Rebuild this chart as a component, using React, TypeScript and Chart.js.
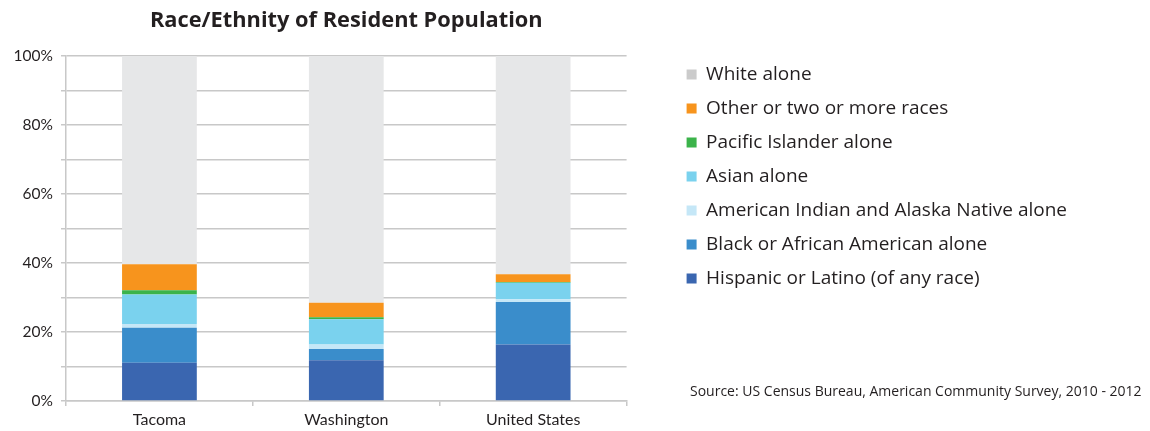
import React, { useEffect, useRef } from "react";
import { Chart, registerables } from "chart.js";

Chart.register(...registerables);

const categories = ["Tacoma", "Washington", "United States"];

const seriesNames = [
  "Hispanic or Latino (of any race)",
  "Black or African American alone",
  "American Indian and Alaska Native alone",
  "Asian alone",
  "Pacific Islander alone",
  "Other or two or more races",
  "White alone",
];

const hispanic = [11.1, 11.8, 16.4];
const black = [10.1, 3.3, 12.3];
const aian = [1.1, 1.3, 0.8];
const asian = [8.6, 7.3, 4.8];
const pacific = [1.2, 0.6, 0.2];
const other = [7.5, 4.2, 2.2];
const white = [60.4, 71.5, 63.3];

const seriesValues = [hispanic, black, aian, asian, pacific, other, white];

const barColors = ["#3A66B0", "#3A8DCB", "#C5E7F7", "#7AD2EE", "#3BB34A", "#F7941D", "#E6E7E8"];
const legendColors = ["#3A66B0", "#3A8DCB", "#C5E7F7", "#7AD2EE", "#3BB34A", "#F7941D", "#CBCBCB"];

const titleText = "Race/Ethnity of Resident Population";
const sourceNote = "Source: US Census Bureau, American Community Survey, 2010 - 2012";

const yMin = 0;
const yMax = 100;
const yStep = 10;
const yLabelStep = 20;

const TEXT = "#231F20";
const GRID = "#C8C8C8";
const BASE_FONT = "'Open Sans', 'Noto Sans', sans-serif";
const AXIS_FONT = "Lato, 'Open Sans', sans-serif";

const sourcePlugin = {
  id: "sourceNote",
  afterDraw(chart: any) {
    const ctx = chart.ctx;
    ctx.save();
    ctx.font = `14px ${BASE_FONT}`;
    ctx.fillStyle = TEXT;
    ctx.textBaseline = "middle";
    ctx.textAlign = "left";
    ctx.fillText(sourceNote, 690, 392);
    ctx.restore();
  },
};

export default function App() {
  const canvasRef = useRef<HTMLCanvasElement | null>(null);

  useEffect(() => {
    document.body.style.margin = "0";
    const canvas = canvasRef.current;
    if (!canvas) return;

    const datasets = seriesNames.map((name, i) => ({
      label: name,
      data: seriesValues[i],
      backgroundColor: barColors[i],
      borderWidth: 0,
      categoryPercentage: 1,
      barPercentage: 0.4,
    }));

    const chart = new Chart(canvas, {
      type: "bar",
      data: { labels: categories, datasets },
      plugins: [sourcePlugin],
      options: {
        responsive: false,
        animation: false,
        maintainAspectRatio: false,
        layout: { padding: { left: 0, right: 73, top: 0, bottom: 0 } },
        plugins: {
          tooltip: { enabled: false },
          title: {
            display: true,
            text: titleText,
            fullSize: false,
            color: TEXT,
            font: { family: BASE_FONT, size: 21.8, weight: "bold" },
            padding: { top: 7.5, bottom: 22.3 },
          },
          legend: {
            display: true,
            position: "right",
            align: "start",
            reverse: true,
            maxWidth: 406,
            title: {
              display: true,
              text: " ",
              font: { size: 10 },
              padding: { top: 38, bottom: 0 },
            },
            labels: {
              boxWidth: 10,
              boxHeight: 10,
              padding: 15,
              color: TEXT,
              font: { family: BASE_FONT, size: 19 },
              generateLabels: (c: any) => {
                const items = (Chart.defaults.plugins.legend.labels as any).generateLabels(c);
                return items.map((it: any) => ({
                  ...it,
                  fillStyle: legendColors[it.datasetIndex],
                  strokeStyle: legendColors[it.datasetIndex],
                  lineWidth: 0,
                }));
              },
            },
          },
        },
        scales: {
          x: {
            stacked: true,
            afterFit: (scale: any) => {
              scale.height = 30;
            },
            grid: {
              display: true,
              drawOnChartArea: false,
              drawTicks: true,
              tickLength: 5,
              color: GRID,
              lineWidth: 1.5,
            },
            border: { display: true, color: GRID, width: 1.5 },
            ticks: {
              color: TEXT,
              padding: 4,
              font: { family: AXIS_FONT, size: 16 },
            },
          },
          y: {
            stacked: true,
            min: yMin,
            max: yMax,
            afterFit: (scale: any) => {
              scale.width = 66;
            },
            grid: {
              color: GRID,
              lineWidth: 1.5,
              tickLength: 5,
            },
            border: { display: true, color: GRID, width: 1.5 },
            ticks: {
              stepSize: yStep,
              padding: 8,
              color: TEXT,
              font: { family: AXIS_FONT, size: 15.5 },
              callback: (v: any) => (Number(v) % yLabelStep === 0 ? `${v}%` : ""),
            },
          },
          gap: {
            type: "linear",
            position: "right",
            display: true,
            grid: { display: false, drawTicks: false },
            border: { display: false },
            ticks: { display: false },
            afterFit: (scale: any) => {
              scale.width = 45;
            },
          },
        },
      } as any,
    });

    return () => chart.destroy();
  }, []);

  return (
    <div style={{ position: "fixed", left: 0, top: 0, width: 1150, height: 431, background: "#fff" }}>
      <canvas ref={canvasRef} width={1150} height={431} />
    </div>
  );
}
